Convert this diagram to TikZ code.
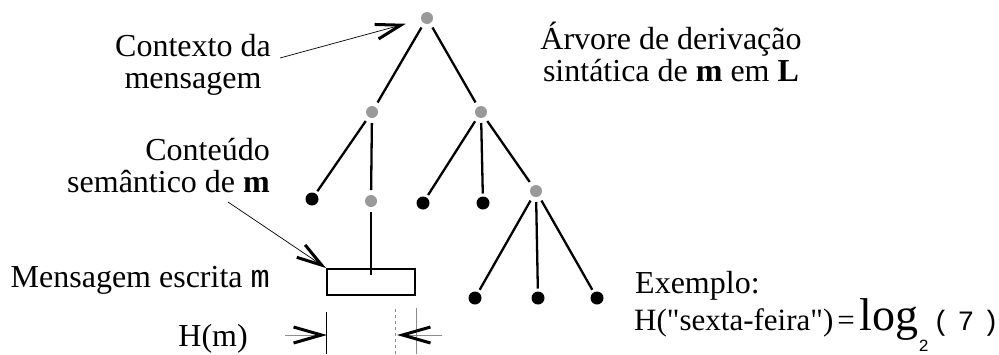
\documentclass[tikz,border=0pt]{standalone}
\usepackage{fontspec}
\setmainfont{Liberation Serif}[Ligatures=TeXOff]
\newfontfamily\monofont{Liberation Mono}
\usetikzlibrary{arrows.meta}

\begin{document}
\begin{tikzpicture}[x=1pt,y=-1pt,
  gdot/.style={circle,fill=black!40,minimum size=12pt,inner sep=0pt,outer sep=5pt},
  bdot/.style={circle,fill=black,minimum size=13pt,inner sep=0pt,outer sep=3pt},
  branch/.style={line width=2.3pt},
  lbl/.style={font=\fontsize{32}{32}\selectfont,inner sep=0pt},
  pointer/.style={line width=0.7pt,-{Straight Barb[length=25pt,width=15pt,line width=3pt]}},
  dim/.style={line width=1pt,draw=black!45,-{Straight Barb[length=28pt,width=16pt,line width=3pt,color=black]}}]
\useasboundingbox (0,0) rectangle (999,354);

% derivation tree
\node (root)[gdot] at (427,18) {};
\node (left)[gdot] at (372,112) {};
\node (right)[gdot] at (481,112) {};
\node (leafa)[bdot] at (312,199) {};
\node (cont)[gdot] at (371,201) {};
\node (leafb)[bdot] at (423,203) {};
\node (leafc)[bdot] at (483,203) {};
\node (sub)[gdot] at (536,191) {};
\node (leafd)[bdot] at (475,298) {};
\node (leafe)[bdot] at (538,298) {};
\node (leaff)[bdot] at (597,298) {};

\draw [branch] (root) -- (left);
\draw [branch] (root) -- (right);
\draw [branch] (left) -- (leafa);
\draw [branch] (left) -- (cont);
\draw [branch] (right) -- (leafb);
\draw [branch] (right) -- (leafc);
\draw [branch] (right) -- (sub);
\draw [branch] (sub) -- (leafd);
\draw [branch] (sub) -- (leafe);
\draw [branch] (sub) -- (leaff);

% written message
\node (msg)[draw,line width=2pt,minimum width=88pt,minimum height=26pt,inner sep=0pt] at (371,282) {};
\coordinate (msgin) at (371,275);
\draw [branch] (cont) -- (msgin);

% labels
\node (ctxt)[lbl,align=center] at (193,65) {Contexto da\\mensagem};
\node (tree)[lbl,align=center] at (671,52) {Árvore de derivação\\sintática de \textbf{m} em \textbf{L}};
\node (sem)[lbl,align=right,anchor=east] at (270,166) {Conteúdo\\semântico de \textbf{m}};
\node (wrt)[lbl,anchor=base east] at (270,287) {Mensagem escrita {\monofont m}};
\node (hm)[lbl,anchor=base east] at (248,346) {H(m)};
\node (ex)[lbl,anchor=base west] at (635,293) {Exemplo:};
\node (hx)[lbl,anchor=base west] at (634,330) {\fontsize{31}{31}\selectfont H("sexta-feira")\hspace{4pt}=\hspace{5pt}{\fontsize{46}{46}\selectfont log}\raisebox{-21pt}{\monofont\fontsize{17}{17}\selectfont 2}\hspace{4pt}{\monofont\fontsize{28}{28}\selectfont(\hspace{8pt}7\hspace{8pt})}};

% pointers
\coordinate (ctxfrom) at (280,58);
\coordinate (semfrom) at (228,202);
\draw [pointer,shorten >=11pt] (ctxfrom) -- (root);
\draw [pointer] (semfrom) -- (msg.north west);

% size of m
\draw [line width=1pt] (msg.west |- 0,312) -- (msg.west |- 0,354);
\draw [line width=1pt,black!45,dashed] (395,309) -- (395,354);
\draw [line width=1pt,black!45] (msg.east |- 0,308) -- (msg.east |- 0,354);
\coordinate (dimla) at (285,335);
\coordinate (dimlb) at (327,335);
\coordinate (dimra) at (442,335);
\coordinate (dimrb) at (397,335);
\draw [dim] (dimla) -- (dimlb);
\draw [dim] (dimra) -- (dimrb);
\end{tikzpicture}
\end{document}
